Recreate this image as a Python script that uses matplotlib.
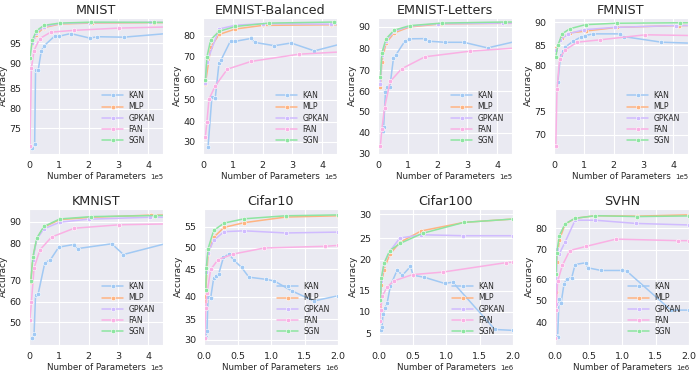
import numpy as np
import matplotlib
matplotlib.use("Agg")
import matplotlib.pyplot as plt
import seaborn as sns

# ---- data (x in units of the panel's parameter scale, y = accuracy %) ----
methods = ["KAN", "MLP", "GPKAN", "FAN", "SGN"]
colors = ["#a1c9f4", "#ffb482", "#d0bbff", "#fab0e4", "#8de5a1"]

mnist = {
    "KAN": ([0.11, 0.19, 0.22, 0.31, 0.41, 0.50, 0.87, 1.00, 1.40, 2.04, 2.29, 3.18, 5.0],
            [70.1, 71.0, 88.7, 88.8, 93.0, 94.3, 96.6, 96.5, 97.1, 96.1, 96.4, 96.3, 97.3]),
    "MLP": ([0.11, 0.23, 0.5, 1.04, 2.1, 4.2, 5.0], [94.7, 96.8, 98.4, 99.2, 99.4, 99.5, 99.5]),
    "GPKAN": ([0.11, 0.25, 0.5, 1.04, 2.05, 4.05, 5.0], [95.0, 97.3, 98.6, 99.3, 99.5, 99.55, 99.55]),
    "FAN": ([0.03, 0.08, 0.17, 0.36, 0.73, 1.51, 3.02, 5.0], [70.5, 89.1, 93.2, 96.0, 97.4, 97.8, 98.3, 98.6]),
    "SGN": ([0.03, 0.11, 0.25, 0.5, 1.04, 2.09, 4.19, 5.0], [91.3, 95.6, 97.7, 98.9, 99.4, 99.6, 99.55, 99.55]),
}
emnist_bal = {
    "KAN": ([0.17, 0.30, 0.41, 0.54, 0.61, 0.93, 1.08, 1.62, 1.73, 2.40, 2.96, 3.74, 5.0],
            [27.5, 51.7, 50.8, 67.4, 68.6, 77.7, 77.3, 78.7, 76.8, 75.2, 76.5, 72.7, 77.4]),
    "MLP": ([0.08, 0.26, 0.54, 1.09, 2.0, 4.3, 5.0], [58.0, 74.5, 80.6, 83.2, 84.9, 85.2, 85.2]),
    "GPKAN": ([0.08, 0.13, 0.54, 1.09, 2.0, 4.3, 5.0], [58.5, 67.6, 83.2, 85.0, 85.7, 85.5, 85.5]),
    "FAN": ([0.08, 0.13, 0.20, 0.41, 0.82, 1.62, 3.22, 5.0], [32.5, 39.7, 50.3, 57.0, 64.6, 67.9, 71.1, 72.5]),
    "SGN": ([0.08, 0.13, 0.26, 0.54, 1.09, 2.21, 4.41, 5.0], [60.0, 69.7, 78.1, 82.1, 84.4, 86.0, 86.5, 86.5]),
}
emnist_let = {
    "KAN": ([0.16, 0.19, 0.25, 0.30, 0.40, 0.52, 0.59, 0.90, 1.05, 1.58, 1.71, 2.25, 2.88, 3.68, 5.0],
            [40.8, 42.7, 59.5, 61.9, 62.1, 75.7, 76.8, 83.4, 84.5, 84.6, 83.4, 82.9, 82.9, 80.3, 84.5]),
    "MLP": ([0.08, 0.13, 0.27, 0.54, 1.06, 2.1, 4.2, 5.0], [62.0, 74.0, 82.6, 87.2, 90.0, 91.4, 91.7, 91.7]),
    "GPKAN": ([0.08, 0.13, 0.27, 0.54, 1.06, 2.0, 4.2, 5.0], [63.2, 77.2, 83.5, 88.0, 90.3, 91.5, 91.8, 91.8]),
    "FAN": ([0.08, 0.13, 0.22, 0.41, 0.79, 1.58, 3.10, 5.0], [33.7, 41.6, 52.1, 64.6, 70.6, 76.2, 78.8, 80.6]),
    "SGN": ([0.08, 0.13, 0.27, 0.54, 1.06, 2.14, 4.25, 5.0], [66.8, 78.0, 84.5, 88.5, 90.6, 91.8, 92.3, 92.3]),
}
fmnist = {
    "KAN": ([0.13, 0.22, 0.30, 0.38, 0.64, 0.90, 1.03, 1.31, 2.21, 2.35, 3.61, 5.0],
            [78.2, 82.5, 83.6, 84.6, 85.9, 86.8, 87.1, 87.5, 87.5, 86.9, 85.7, 85.4]),
    "MLP": ([0.06, 0.27, 0.53, 1.06, 2.1, 4.2, 5.0], [84.3, 86.6, 87.7, 88.1, 88.9, 89.3, 89.3]),
    "GPKAN": ([0.08, 0.19, 0.47, 1.01, 2.04, 4.1, 5.0], [83.9, 86.1, 87.5, 88.4, 88.9, 89.3, 89.3]),
    "FAN": ([0.06, 0.10, 0.19, 0.38, 0.78, 1.53, 3.07, 5.0], [67.5, 77.4, 81.7, 83.9, 85.7, 86.2, 87.3, 87.1]),
    "SGN": ([0.06, 0.13, 0.27, 0.53, 1.06, 2.13, 4.22, 5.0], [82.1, 85.0, 87.5, 88.6, 89.5, 89.8, 89.9, 89.9]),
}
kmnist = {
    "KAN": ([0.11, 0.17, 0.22, 0.31, 0.53, 0.72, 1.00, 1.50, 1.63, 2.78, 3.17, 5.0],
            [42.3, 44.4, 63.0, 63.8, 74.6, 75.5, 78.9, 79.6, 78.5, 79.8, 76.9, 81.2]),
    "MLP": ([0.06, 0.13, 0.26, 0.5, 1.03, 2.09, 4.1, 5.0], [69.3, 76.0, 82.0, 87.4, 90.9, 92.0, 93.0, 93.0]),
    "GPKAN": ([0.13, 0.26, 0.5, 1.03, 2.0, 4.05, 5.0], [75.5, 81.8, 86.6, 89.7, 91.1, 92.0, 92.0]),
    "FAN": ([0.03, 0.08, 0.17, 0.37, 0.76, 1.52, 3.03, 5.0], [51.3, 59.7, 73.3, 78.2, 82.8, 86.9, 88.5, 89.0]),
    "SGN": ([0.06, 0.13, 0.26, 0.5, 1.03, 2.09, 4.22, 5.0], [69.5, 76.2, 82.3, 87.7, 91.2, 92.3, 92.8, 92.8]),
}
cifar10 = {
    "KAN": ([0.025, 0.045, 0.06, 0.10, 0.145, 0.185, 0.22, 0.29, 0.37, 0.45, 0.56, 0.67, 0.93, 1.05, 1.31, 1.64, 2.0],
            [30.7, 32.2, 39.9, 39.8, 43.5, 43.9, 44.2, 47.8, 48.6, 47.1, 45.5, 43.6, 43.2, 42.9, 41.1, 39.1, 40.2]),
    "MLP": ([0.015, 0.06, 0.145, 0.3, 0.6, 1.22, 2.0], [39.1, 48.5, 52.5, 54.8, 55.9, 57.2, 57.5]),
    "GPKAN": ([0.025, 0.06, 0.145, 0.3, 0.6, 1.22, 2.0], [44.6, 48.8, 51.8, 53.8, 54.0, 53.5, 53.7]),
    "FAN": ([0.01, 0.025, 0.045, 0.10, 0.21, 0.44, 0.90, 1.81, 2.0], [30.3, 37.5, 40.7, 45.0, 47.3, 48.6, 50.0, 50.4, 50.6]),
    "SGN": ([0.025, 0.035, 0.06, 0.145, 0.30, 0.60, 1.22, 2.0], [41.2, 45.4, 49.8, 54.1, 55.8, 56.8, 57.5, 57.7]),
}
cifar100 = {
    "KAN": ([0.025, 0.045, 0.06, 0.085, 0.12, 0.17, 0.27, 0.35, 0.47, 0.51, 0.67, 0.98, 1.10, 1.73, 2.0],
            [5.9, 6.5, 9.6, 10.8, 12.0, 15.8, 18.3, 17.5, 18.9, 17.5, 17.2, 16.2, 16.4, 6.0, 5.8]),
    "MLP": ([0.02, 0.035, 0.075, 0.16, 0.31, 0.63, 1.27, 2.0], [11.2, 16.0, 18.4, 21.2, 24.0, 26.5, 28.3, 29.0]),
    "GPKAN": ([0.02, 0.035, 0.075, 0.16, 0.31, 0.63, 1.25, 2.0], [12.5, 16.6, 19.3, 21.9, 25.0, 25.7, 25.5, 25.5]),
    "FAN": ([0.01, 0.025, 0.05, 0.12, 0.22, 0.50, 0.95, 1.89, 2.0], [8.0, 10.4, 13.8, 15.6, 16.6, 17.6, 18.0, 19.5, 19.6]),
    "SGN": ([0.02, 0.035, 0.075, 0.16, 0.32, 0.65, 1.27, 2.0], [12.8, 17.1, 19.4, 22.1, 23.8, 26.0, 28.3, 29.0]),
}
svhn = {
    "KAN": ([0.025, 0.04, 0.06, 0.09, 0.135, 0.185, 0.25, 0.30, 0.46, 0.49, 0.69, 1.0, 1.07, 1.73, 2.0],
            [33.8, 33.4, 51.1, 48.8, 58.0, 60.3, 60.6, 65.0, 65.6, 63.9, 63.0, 63.0, 62.8, 45.7, 45.7]),
    "MLP": ([0.01, 0.025, 0.065, 0.15, 0.3, 0.6, 1.22, 2.0], [54.3, 65.9, 74.6, 81.8, 84.6, 85.8, 85.6, 86.2]),
    "GPKAN": ([0.015, 0.03, 0.065, 0.15, 0.3, 0.6, 1.21, 2.0], [48.5, 70.3, 68.6, 73.5, 83.7, 83.7, 82.2, 81.5]),
    "FAN": ([0.005, 0.015, 0.04, 0.11, 0.22, 0.46, 0.91, 1.83, 2.0], [32.6, 45.7, 59.2, 64.7, 69.7, 71.5, 74.9, 74.2, 74.2]),
    "SGN": ([0.015, 0.025, 0.065, 0.15, 0.3, 0.6, 1.22, 2.0], [61.7, 68.9, 76.5, 82.0, 84.6, 85.8, 85.4, 85.7]),
}

titles = ["MNIST", "EMNIST-Balanced", "EMNIST-Letters", "FMNIST",
          "KMNIST", "Cifar10", "Cifar100", "SVHN"]
panels = [mnist, emnist_bal, emnist_let, fmnist, kmnist, cifar10, cifar100, svhn]
yticks = [[75, 80, 85, 90, 95], [30, 40, 50, 60, 70, 80], [30, 40, 50, 60, 70, 80, 90],
          [70, 75, 80, 85, 90], [50, 60, 70, 80, 90], [30, 35, 40, 45, 50, 55],
          [5, 10, 15, 20, 25, 30], [40, 50, 60, 70, 80]]
xunit = [1e5, 1e5, 1e5, 1e5, 1e5, 1e6, 1e6, 1e6]

# ---- layout: the y axes are stretched unevenly, anchor value -> vertical pixel ----
y_anchor_val = [[75, 80, 85, 90, 95, 100], [30, 40, 50, 60, 70, 80, 90],
                [30, 40, 50, 60, 70, 80, 90], [70, 75, 80, 85, 90],
                [50, 60, 70, 80, 90], [30, 35, 40, 45, 50, 55],
                [5, 10, 15, 20, 25, 30], [40, 50, 60, 70, 80]]
y_anchor_px = [[385, 326, 267, 192, 130, 62], [425, 365, 300, 240, 170, 108, 45],
               [463, 400, 338, 275, 212, 147, 82], [405, 335, 195, 135, 65],
               [415, 353, 287, 175, 110], [467, 405, 338, 255, 190, 125],
               [450, 383, 320, 225, 160, 88], [415, 350, 285, 195, 130]]
frame_px = [(55, 460), (55, 460), (55, 462), (52, 462),
            (72, 482), (72, 482), (72, 482), (72, 482)]
lefts = [29, 203, 378, 554, 29, 204, 379, 555]


def lin_extrap(x, xp, fp):
    x = np.asarray(x, dtype=float)
    y = np.interp(x, xp, fp)
    lo_slope = (fp[1] - fp[0]) / (xp[1] - xp[0])
    hi_slope = (fp[-1] - fp[-2]) / (xp[-1] - xp[-2])
    y = np.where(x < xp[0], fp[0] + (x - xp[0]) * lo_slope, y)
    y = np.where(x > xp[-1], fp[-1] + (x - xp[-1]) * hi_slope, y)
    return y


def make_scale(vals, px):
    v = np.asarray(vals, float)
    p = -np.asarray(px, float)
    return (lambda a: lin_extrap(a, v, p)), (lambda a: lin_extrap(a, p, v))


sns.set_style("darkgrid")
plt.rcParams["font.family"] = ["DejaVu Sans"]

W, H = 700, 372
fig = plt.figure(figsize=(7, 3.72), dpi=100)

for i, data in enumerate(panels):
    top_px = 18 if i < 4 else 209
    ax = fig.add_axes([lefts[i] / W, 1 - (top_px + 135.5) / H, 134 / W, 135.5 / H])
    fwd, inv = make_scale(y_anchor_val[i], y_anchor_px[i])
    ax.set_yscale("function", functions=(fwd, inv))

    for name, col in zip(methods, colors):
        xs, ys = data[name]
        ax.plot(np.array(xs) * xunit[i], ys, color=col, lw=1.1, marker="o",
                ms=3.2, mec="white", mew=0.4, label=name)

    ft, fb = frame_px[i]
    ax.set_ylim(float(inv(-fb)), float(inv(-ft)))
    ax.set_yticks(yticks[i])
    ax.yaxis.set_major_formatter(matplotlib.ticker.FormatStrFormatter("%d"))
    ax.yaxis.set_minor_locator(matplotlib.ticker.NullLocator())

    if xunit[i] == 1e5:
        ax.set_xlim(0, 4.5e5)
        ax.set_xticks([0, 1e5, 2e5, 3e5, 4e5])
    else:
        ax.set_xlim(0, 2e6)
        ax.set_xticks([0, 0.5e6, 1e6, 1.5e6, 2e6])
    ax.ticklabel_format(axis="x", style="sci", scilimits=(0, 0))
    ax.xaxis.get_offset_text().set_fontsize(5)

    ax.tick_params(labelsize=6.8, pad=2)
    ax.set_title(titles[i], fontsize=9.2, pad=3)
    ax.set_xlabel("Number of Parameters", fontsize=6.3, labelpad=1)
    ax.set_ylabel("Accuracy", fontsize=6.5, labelpad=1)
    ax.legend(loc="lower right", frameon=False, fontsize=5.5, handlelength=2.75,
              handletextpad=0.65, labelspacing=0.3, borderaxespad=0.7)

fig.savefig("out.png", dpi=100)
